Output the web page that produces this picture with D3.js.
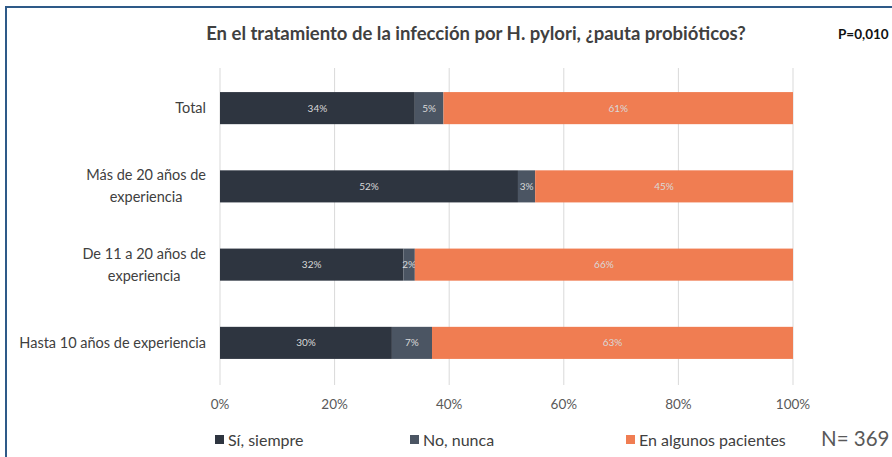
<!DOCTYPE html>
<html><head><meta charset="utf-8">
<script src="https://cdn.jsdelivr.net/npm/d3@7"></script>
<style>body{margin:0;background:#fff}svg{display:block}</style>
</head><body><svg id="c" width="892" height="457"></svg>
<script>
const categories = ["Total","Más de 20 años de experiencia","De 11 a 20 años de experiencia","Hasta 10 años de experiencia"];
const catLines = [["Total"],["Más de 20 años de","experiencia"],["De 11 a 20 años de","experiencia"],["Hasta 10 años de experiencia"]];
const seriesNames = ["Sí, siempre","No, nunca","En algunos pacientes"];
const siSiempre = [34,52,32,30];
const noNunca = [5,3,2,7];
const enAlgunos = [61,45,66,63];
const xTicks = [0,20,40,60,80,100];
const colors = ["#2e3540","#4b5563","#f07d52"];

const svg = d3.select("#c");
const font = "Lato, 'Open Sans', sans-serif";

// frame
svg.append("path").attr("d","M6,457 V7 H892").attr("fill","none").attr("stroke","#2e5a88").attr("stroke-width",2);

const x = d3.scaleLinear().domain([0,100]).range([220,793]);
const y = d3.scaleBand().domain(categories).range([69,382]).paddingInner(0.59).paddingOuter(0.295);

// grid
svg.append("g").selectAll("line").data(xTicks).join("line")
  .attr("x1",d=>x(d)).attr("x2",d=>x(d)).attr("y1",68).attr("y2",385)
  .attr("stroke","#d9d9d9").attr("stroke-width",1);

const rows = categories.map((c,i)=>({c, vals:[siSiempre[i],noNunca[i],enAlgunos[i]]}));
const stack = d3.stack().keys([0,1,2]).value((d,k)=>d.vals[k])(rows);

const g = svg.append("g");
stack.forEach((layer,k)=>{
  g.append("g").selectAll("rect").data(layer).join("rect")
    .attr("x",d=>x(d[0])).attr("width",d=>x(d[1])-x(d[0]))
    .attr("y",d=>y(d.data.c)).attr("height",y.bandwidth())
    .attr("fill",colors[k]);
  g.append("g").selectAll("text").data(layer).join("text")
    .attr("x",d=>(x(d[0])+x(d[1]))/2).attr("y",d=>y(d.data.c)+y.bandwidth()/2)
    .attr("dy","0.35em").attr("text-anchor","middle")
    .attr("font-family",font).attr("font-size",10).attr("fill","#d9d9d9")
    .text(d=>d.data.vals[k]+"%");
});

// y labels
categories.forEach((c,i)=>{
  const lines = catLines[i];
  const cy = y(c)+y.bandwidth()/2;
  const t = svg.append("text").attr("text-anchor","end").attr("font-family",font)
    .attr("font-size",14.5).attr("fill","#404040");
  lines.forEach((l,j)=>{
    t.append("tspan").attr("x",206).attr("y",cy+(j-(lines.length-1)/2)*22).attr("dy","0.35em").text(l);
  });
  if(lines.length>1){
    const w0 = t.select("tspan").node().getComputedTextLength();
    t.selectAll("tspan").attr("text-anchor","middle").attr("x",206-w0/2);
  }
});

// x axis labels
svg.append("g").selectAll("text").data(xTicks).join("text")
  .attr("x",d=>x(d)).attr("y",404).attr("dy","0.35em").attr("text-anchor","middle")
  .attr("font-family",font).attr("font-size",13.5).attr("fill","#595959")
  .text(d=>d+"%");

// title
svg.append("text").attr("x",476).attr("y",40).attr("text-anchor","middle")
  .attr("font-family",font).attr("font-weight","bold").attr("font-size",18.5).attr("fill","#404040")
  .text("En el tratamiento de la infección por H. pylori, ¿pauta probióticos?");
svg.append("text").attr("x",838).attr("y",39).attr("font-family",font).attr("font-weight","bold")
  .attr("font-size",13.5).attr("fill","#111").text("P=0,010");

// legend
const legX = [215,410,626];
seriesNames.forEach((s,i)=>{
  svg.append("rect").attr("x",legX[i]).attr("y",435).attr("width",9).attr("height",9).attr("fill",colors[i]);
  svg.append("text").attr("x",legX[i]+13).attr("y",440).attr("dy","0.35em")
    .attr("font-family",font).attr("font-size",16).attr("fill","#404040").text(s);
});
svg.append("text").attr("x",821).attr("y",439).attr("dy","0.35em").attr("font-family",font)
  .attr("font-size",20.5).attr("fill","#595959").text("N= 369");
</script></body></html>
